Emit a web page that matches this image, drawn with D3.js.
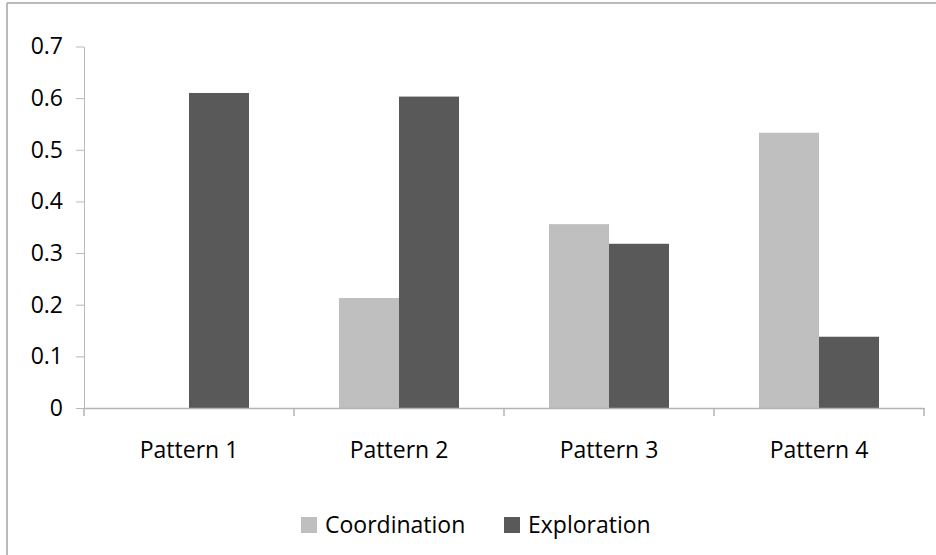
<!DOCTYPE html>
<html>
<head>
<meta charset="utf-8">
<script src="https://cdn.jsdelivr.net/npm/d3@7"></script>
<style>
  html, body { margin: 0; padding: 0; background: #fff; }
  svg { display: block; font-family: "Open Sans", "Noto Sans", sans-serif; }
</style>
</head>
<body>
<svg id="chart" width="936" height="555"></svg>
<script>
// Share of each pattern by behaviour type
const categories = ["Pattern 1", "Pattern 2", "Pattern 3", "Pattern 4"];
const seriesNames = ["Coordination", "Exploration"];
const coordination = [0, 0.213, 0.356, 0.533];
const exploration = [0.61, 0.603, 0.318, 0.138];
const yTicks = [0, 0.1, 0.2, 0.3, 0.4, 0.5, 0.6, 0.7];
const colors = ["#bfbfbf", "#595959"];

const rows = categories.map((c, i) => ({ cat: c, values: [coordination[i], exploration[i]] }));

const svg = d3.select("#chart");
const W = 936, H = 555;
const plot = { left: 84, right: 924, top: 46.5, bottom: 408 };
const fontSize = 23;

// outer frame (top and left edges visible)
svg.append("line").attr("x1", 7).attr("x2", W).attr("y1", 3).attr("y2", 3)
  .attr("stroke", "#a3a3a3").attr("stroke-width", 1.5);
svg.append("line").attr("x1", 7).attr("x2", 7).attr("y1", 3).attr("y2", H)
  .attr("stroke", "#a3a3a3").attr("stroke-width", 1.5);

const x0 = d3.scaleBand().domain(categories).range([plot.left, plot.right]).paddingInner(0).paddingOuter(0);
const x1 = d3.scaleBand().domain(seriesNames).range([0, 120]);
const groupOffset = (x0.bandwidth() - 120) / 2;
const y = d3.scaleLinear().domain([0, 0.7]).range([plot.bottom, plot.top]);

// bars
const g = svg.append("g");
g.selectAll("g.grp").data(rows).join("g")
  .attr("class", "grp")
  .attr("transform", d => `translate(${x0(d.cat) + groupOffset},0)`)
  .selectAll("rect").data(d => d.values.map((v, k) => ({ v, k })))
  .join("rect")
  .attr("x", d => x1(seriesNames[d.k]))
  .attr("width", x1.bandwidth())
  .attr("y", d => y(d.v))
  .attr("height", d => y(0) - y(d.v))
  .attr("fill", d => colors[d.k]);

// y axis
const yAxis = svg.append("g").attr("transform", `translate(${plot.left},0)`)
  .call(d3.axisLeft(y).tickValues(yTicks).tickSize(8).tickSizeOuter(0).tickPadding(13)
    .tickFormat(d => d === 0 ? "0" : d3.format(".1f")(d)));
yAxis.select(".domain").attr("stroke", "#b8b8b8").attr("stroke-width", 1);
yAxis.selectAll(".tick line").attr("stroke", "#b8b8b8");
yAxis.selectAll(".tick text").attr("fill", "#000").attr("font-size", fontSize)
  .attr("font-family", "'Open Sans', sans-serif");

// x axis
const xAxis = svg.append("g").attr("transform", `translate(0,${plot.bottom})`)
  .call(d3.axisBottom(x0).tickSize(0).tickPadding(34));
xAxis.select(".domain").attr("stroke", "#b3b3b3").attr("stroke-width", 1.5);
xAxis.selectAll(".tick text").attr("fill", "#000").attr("font-size", fontSize)
  .attr("font-family", "'Open Sans', sans-serif");
// category boundary ticks
const bounds = categories.map(c => x0(c)).concat([plot.right]);
xAxis.selectAll("line.bound").data(bounds).join("line")
  .attr("class", "bound")
  .attr("x1", d => d).attr("x2", d => d)
  .attr("y1", 0).attr("y2", 8)
  .attr("stroke", "#b3b3b3").attr("stroke-width", 1.5);

// legend
const legendItems = [
  { name: seriesNames[0], color: colors[0], x: 301 },
  { name: seriesNames[1], color: colors[1], x: 504 }
];
const lg = svg.append("g");
legendItems.forEach(it => {
  lg.append("rect").attr("x", it.x).attr("y", 517).attr("width", 16).attr("height", 16).attr("fill", it.color);
  lg.append("text").attr("x", it.x + 24).attr("y", 533).attr("font-size", fontSize)
    .attr("fill", "#000").text(it.name);
});
</script>
</body>
</html>
